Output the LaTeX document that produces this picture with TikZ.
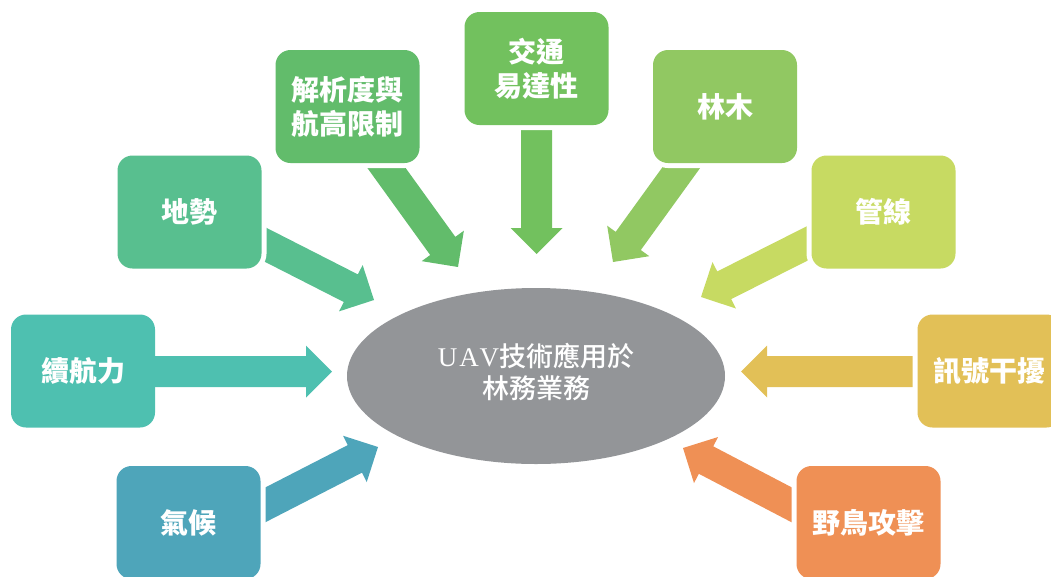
\documentclass[tikz,border=0pt]{standalone}
\usepackage{fontspec}
\setmainfont{Liberation Serif}
\newfontfamily\cjk{Noto Sans CJK TC}
\newfontfamily\cjkmed{Noto Sans CJK TC Medium}
\usetikzlibrary{calc,shapes.geometric}
\definecolor{cDishi}{HTML}{58BF8F}
\definecolor{cJiexi}{HTML}{62BC6B}
\definecolor{cJiaotong}{HTML}{72C15E}
\definecolor{cLinmu}{HTML}{91C862}
\definecolor{cGuanxian}{HTML}{C7DA62}
\definecolor{cXuhang}{HTML}{4EC0B0}
\definecolor{cQihou}{HTML}{4EA5BA}
\definecolor{cXunhao}{HTML}{E2C057}
\definecolor{cYeniao}{HTML}{EF9055}
\definecolor{cCenter}{HTML}{939598}
\newcommand\blockarr[3]{%
  \coordinate (ba-s) at ($(#2)!1.35!(#1)$);
  \coordinate (ba-h) at ($(#2)!26pt!(#1)$);
  \fill[#3] ($(ba-s)!15.5pt!90:(#2)$) -- ($(ba-h)!15.5pt!90:(#2)$)
    -- ($(ba-h)!26pt!90:(#2)$) -- (#2) -- ($(ba-h)!26pt!-90:(#2)$)
    -- ($(ba-h)!15.5pt!-90:(#2)$) -- ($(ba-s)!15.5pt!-90:(#2)$) -- cycle;
}
\tikzset{
  factor/.style={rounded corners=15pt, minimum width=144pt, minimum height=113pt,
    inner sep=0pt, text=white, align=center,
    font=\cjk\bfseries\fontsize{28}{34}\selectfont},
  halo/.style={preaction={draw=white, line width=10pt}},
}
\begin{document}
\begin{tikzpicture}[x=1pt,y=-1pt]
\useasboundingbox (0,0) rectangle (1051,576);
\clip (0,0) rectangle (1051,576);
% centre
\node[ellipse, fill=cCenter, minimum width=378pt, minimum height=176pt, inner sep=0pt] (center) at (536,376) {};
\node[text=white, align=center, font=\fontsize{27}{32}\selectfont] (ctext) at (536,372)
  {U\kern2pt A\kern1pt V{\cjkmed 技術應用於}\\{\cjkmed 林務業務}};
% arrow coordinates (back, tip)
\coordinate (b1) at (266,245);   \coordinate (t1) at (374,300);
\coordinate (b2) at (386.5,168); \coordinate (t2) at (458,267);
\coordinate (b3) at (536.5,131); \coordinate (t3) at (536.5,254);
\coordinate (b4) at (681,168);   \coordinate (t4) at (613,262);
\coordinate (b5) at (807,243.5); \coordinate (t5) at (701,297);
\coordinate (b6) at (155,371.5); \coordinate (t6) at (332,371.5);
\coordinate (b7) at (913,371.5); \coordinate (t7) at (741,371.5);
\coordinate (b8) at (266,504.5); \coordinate (t8) at (378,447);
\coordinate (b9) at (792,505);   \coordinate (t9) at (683,448);
\blockarr{b1}{t1}{cDishi}
\blockarr{b2}{t2}{cJiexi}
\blockarr{b3}{t3}{cJiaotong}
\blockarr{b4}{t4}{cLinmu}
\blockarr{b5}{t5}{cGuanxian}
\blockarr{b6}{t6}{cXuhang}
\blockarr{b7}{t7}{cXunhao}
\blockarr{b8}{t8}{cQihou}
\blockarr{b9}{t9}{cYeniao}
% boxes
\node[factor, halo, fill=cDishi] (dishi) at (189.5,212) {地勢};
\node[factor, halo, fill=cJiexi] (jiexi) at (347.5,106.5) {解析度與\\航高限制};
\node[factor, halo, fill=cJiaotong] (jiaotong) at (536.5,68.5) {交通\\易達性};
\node[factor, halo, fill=cLinmu] (linmu) at (725,106.5) {林木};
\node[factor, halo, fill=cGuanxian] (guanxian) at (883.5,212) {管線};
\node[factor, fill=cXuhang] (xuhang) at (83,371) {續航力};
\node[factor, halo, fill=cXunhao] (xunhao) at (989.5,371) {訊號干擾};
\node[factor, halo, fill=cQihou] (qihou) at (188.5,522.5) {氣候};
\node[factor, halo, fill=cYeniao] (yeniao) at (868.5,522.5) {野鳥攻擊};
\end{tikzpicture}
\end{document}
